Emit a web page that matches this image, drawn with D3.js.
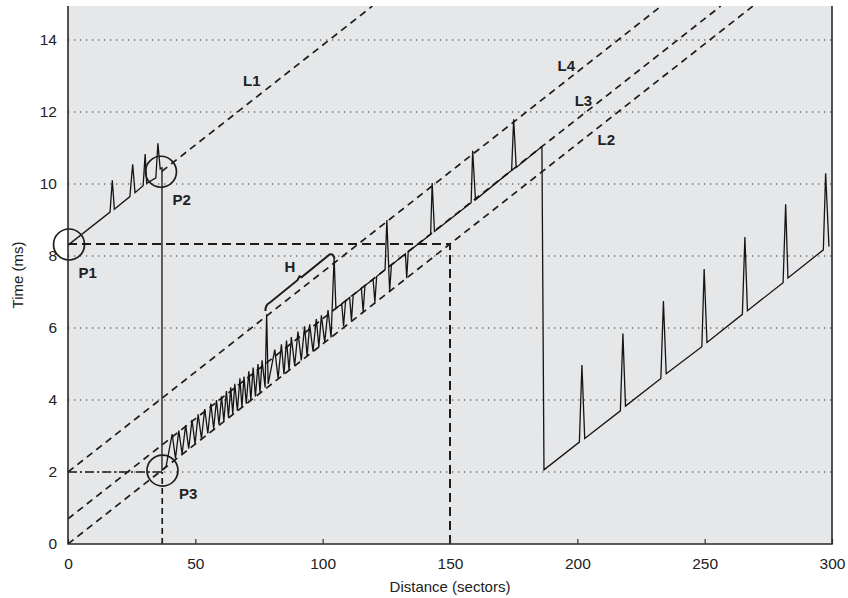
<!DOCTYPE html>
<meta charset='utf-8'>
<style>
body { margin: 0; background: #fff; }
text { font-family: 'Liberation Sans', Arial, sans-serif; fill: #222; }
.tick text { font-size: 15.5px; }
.label { font-size: 15px; font-weight: bold; }
.axis-title { font-size: 15px; }
.grid line { stroke: #333; stroke-width: 1.2; stroke-dasharray: 1.3,4.7; }
.ref { fill: none; stroke: #1c1c1c; stroke-width: 1.7; stroke-dasharray: 7,5; }
.guide { fill: none; stroke: #1c1c1c; stroke-width: 2; stroke-dasharray: 9,5; }
.trace { fill: none; stroke: #151515; stroke-width: 1.3; }
</style>
<svg width='848' height='598'></svg>
<script src='https://d3js.org/d3.v7.min.js'></script>
<script>

// tick values
var xTicks = [0, 50, 100, 150, 200, 250, 300];
var yTicks = [0, 2, 4, 6, 8, 10, 12, 14];

// measured response time vs seek distance, [sectors, ms]
var approachPts = [
  [0, 8.3], [16.5, 9.22], [17.4, 10.1], [18.2, 9.3], [24.3, 9.65], [25.4, 10.55], [26.3, 9.76],
  [29.5, 9.95], [30.3, 10.83], [30.9, 10.02], [34.5, 10.17], [35.3, 11.13], [36.2, 10.42],
  [36.9, 10.45], [36.9, 2.05]
];
var zigzagPts = [
  [38.5, 2.15], [40.9, 3.05], [42.2, 2.38], [43.5, 3.15], [44.8, 2.5], [46.2, 3.3], [47.4, 2.65],
  [48.7, 3.45], [49.9, 2.78], [51.1, 3.6], [52.4, 2.93], [53.7, 3.75], [54.9, 3.07], [56.1, 3.9],
  [57.2, 3.2], [58.3, 4.0], [59.3, 3.32], [60.3, 4.1], [61.2, 3.42], [62.2, 4.25], [63.0, 3.52],
  [63.9, 4.35], [64.7, 3.61], [65.5, 4.45], [66.5, 3.7], [67.5, 4.6], [68.3, 3.8], [69.1, 4.65],
  [70.0, 3.9], [71.0, 4.8], [71.8, 4.0], [72.7, 4.9], [73.6, 4.1], [74.6, 5.0], [75.4, 4.2],
  [76.2, 5.1], [77.4, 4.35], [78.0, 6.38], [78.6, 4.45], [81.2, 5.4], [82.5, 4.6], [83.8, 5.55],
  [84.8, 4.72], [85.8, 5.65], [86.8, 4.83], [87.7, 5.75], [89.0, 4.95], [90.3, 5.9], [91.6, 5.1],
  [92.9, 6.05], [93.9, 5.22], [94.9, 6.1], [96.2, 5.35], [97.5, 6.25], [98.5, 5.47], [99.5, 6.35],
  [100.8, 5.6], [102.1, 6.5], [103.3, 5.74], [104.5, 7.95], [105.2, 6.55]
];
var plateauPts = [
  [107.5, 6.67], [108.2, 6.05], [109.0, 6.75], [110.6, 6.85], [111.3, 6.2], [112.0, 6.92],
  [115.2, 7.1], [115.9, 6.45], [116.6, 7.18], [119.8, 7.35], [120.5, 6.72], [121.2, 7.43],
  [124.5, 7.62], [125.2, 9.0], [126.3, 7.02], [127.0, 7.75], [132.5, 8.06], [133.0, 7.38],
  [133.6, 8.12], [142.4, 8.6], [143.0, 10.03], [143.9, 8.68], [158.3, 9.48], [158.9, 10.92],
  [160.0, 9.56], [174.2, 10.38], [175.0, 11.8], [176.0, 10.46], [186.1, 11.04], [186.9, 2.06]
];
var tailPts = [
  [200.8, 2.83], [201.8, 4.97], [202.9, 2.93], [216.9, 3.7], [217.9, 5.85], [218.9, 3.83],
  [232.8, 4.6], [233.8, 6.75], [234.9, 4.73], [248.9, 5.48], [249.8, 7.64], [250.9, 5.6],
  [264.8, 6.38], [265.8, 8.53], [266.8, 6.48], [280.8, 7.26], [281.8, 9.44], [282.7, 7.39],
  [296.6, 8.17], [297.5, 10.3], [298.8, 8.26]
];

// fitted reference lines, endpoints [sectors, ms]
var refNames = ['L1', 'L2', 'L3', 'L4'];
var refFrom = [[36.8, 10.35], [0, 0], [0, 0.7], [0, 2.0]];
var refTo = [[119.5, 14.94], [268.9, 14.94], [256.3, 14.94], [232.9, 14.94]];

// guide lines
var guideLines = [[[0, 8.33], [150, 8.33]], [[150, 0], [150, 8.33]]];
var p3Cross = [[[0, 2.0], [37, 2.0]], [[37, 0], [37, 2.0]]];

// marked points
var pointNames = ['P1', 'P2', 'P3'];
var pointPos = [[0.4, 8.32], [36.5, 10.34], [37.1, 2.04]];

// labels
var labelText = ['L1', 'L2', 'L3', 'L4', 'P1', 'P2', 'P3', 'H'];
var labelPos = [[72.2, 12.86], [211.4, 11.22], [202.4, 12.31], [195.7, 13.28],
                [7.7, 7.54], [44.6, 9.56], [47.2, 1.39], [87.1, 7.7]];

// H bracket span
var hSpan = [[77.9, 6.64], [103.9, 8.07]];

var svg = d3.select('svg'),
    padL = 68, padR = 832, padT = 6, padB = 544;

var x = d3.scaleLinear().domain([0, 300]).range([padL, padR]);
var y = d3.scaleLinear().domain([0, (padB - padT) / 36]).range([padB, padT]);

svg.append('rect')
  .attr('x', padL).attr('y', padT)
  .attr('width', padR - padL).attr('height', padB - padT)
  .attr('fill', '#e6e7e9');

svg.append('defs').append('clipPath').attr('id', 'clip')
  .append('rect').attr('x', padL).attr('y', padT)
  .attr('width', padR - padL).attr('height', padB - padT);

// dotted grid
svg.append('g').attr('class', 'grid')
  .selectAll('line')
  .data(yTicks.filter(function(d) { return d > 0; }))
  .enter().append('line')
    .attr('x1', padL).attr('x2', padR)
    .attr('y1', function(d) { return y(d); })
    .attr('y2', function(d) { return y(d); });

var line = d3.line().x(function(d) { return x(d[0]); }).y(function(d) { return y(d[1]); });
var plot = svg.append('g').attr('clip-path', 'url(#clip)');

// reference lines
plot.selectAll('.ref')
  .data(refNames)
  .enter().append('path')
    .attr('class', 'ref')
    .attr('d', function(d, i) { return line([refFrom[i], refTo[i]]); });

plot.selectAll('.guide')
  .data(guideLines)
  .enter().append('path')
    .attr('class', 'guide')
    .attr('d', line);

plot.append('path')
  .attr('class', 'ref')
  .attr('d', line(p3Cross[0]))
  .style('stroke-dasharray', '9,3,2,3');
plot.append('path')
  .attr('class', 'ref')
  .attr('d', line(p3Cross[1]))
  .style('stroke-dasharray', '6,4');

// measured trace
var trace = approachPts.concat(zigzagPts, plateauPts, tailPts);
plot.append('path')
  .attr('class', 'trace')
  .attr('d', line(trace));

// H brace, drawn above L4
var bx0 = x(hSpan[0][0]), by0 = y(hSpan[0][1]),
    bx1 = x(hSpan[1][0]), by1 = y(hSpan[1][1]),
    bmx = (bx0 + bx1) / 2, bmy = (by0 + by1) / 2;
var brace = d3.path();
brace.moveTo(bx0 - 1, by0 + 6);
brace.quadraticCurveTo(bx0 - 1, by0, bx0 + 3, by0 - 2);
brace.lineTo(bmx - 2, bmy + 1);
brace.lineTo(bmx, bmy - 3);
brace.lineTo(bmx + 2, bmy - 2);
brace.lineTo(bx1 - 3, by1 + 1);
brace.quadraticCurveTo(bx1 + 1, by1, bx1 + 2, by1 + 5);
plot.append('path')
  .attr('d', brace.toString())
  .attr('fill', 'none')
  .attr('stroke', '#1c1c1c')
  .attr('stroke-width', 2);

// circles
svg.selectAll('.pt')
  .data(pointNames)
  .enter().append('circle')
    .attr('class', 'pt')
    .attr('cx', function(d, i) { return x(pointPos[i][0]); })
    .attr('cy', function(d, i) { return y(pointPos[i][1]); })
    .attr('r', 15.5)
    .attr('fill', 'none')
    .attr('stroke', '#1c1c1c')
    .attr('stroke-width', 1.7);

// axes
svg.append('g')
  .attr('transform', 'translate(0,' + padB + ')')
  .call(d3.axisBottom(x).tickValues(xTicks).tickSize(-5).tickPadding(14).tickFormat(d3.format('d')))
  .call(function(g) {
    g.select('.domain').remove();
    g.selectAll('.tick line').attr('stroke', '#333').attr('stroke-width', 1.2);
    g.selectAll('.tick text').attr('fill', '#222');
    g.attr('font-family', null).attr('font-size', null);
  });

svg.append('g')
  .attr('transform', 'translate(' + padL + ',0)')
  .call(d3.axisLeft(y).tickValues(yTicks).tickSize(0).tickPadding(11).tickFormat(d3.format('d')))
  .call(function(g) {
    g.select('.domain').remove();
    g.selectAll('.tick text').attr('fill', '#222');
    g.attr('font-family', null).attr('font-size', null);
  });

// frame: left, bottom, right
svg.append('path')
  .attr('d', 'M' + padL + ',' + padT + 'V' + padB + 'H' + padR + 'V' + padT)
  .attr('fill', 'none')
  .attr('stroke', '#2a2a2a')
  .attr('stroke-width', 1.6);

// labels
svg.selectAll('.label')
  .data(labelText)
  .enter().append('text')
    .attr('class', 'label')
    .attr('x', function(d, i) { return x(labelPos[i][0]); })
    .attr('y', function(d, i) { return y(labelPos[i][1]); })
    .attr('dy', '0.36em')
    .attr('text-anchor', 'middle')
    .text(function(d) { return d; });

svg.append('text')
  .attr('class', 'axis-title')
  .attr('x', (padL + padR) / 2)
  .attr('y', 592)
  .attr('text-anchor', 'middle')
  .text('Distance (sectors)');

svg.append('text')
  .attr('class', 'axis-title')
  .attr('transform', 'rotate(-90)')
  .attr('x', -(padT + padB) / 2)
  .attr('y', 23)
  .attr('text-anchor', 'middle')
  .text('Time (ms)');

</script>
